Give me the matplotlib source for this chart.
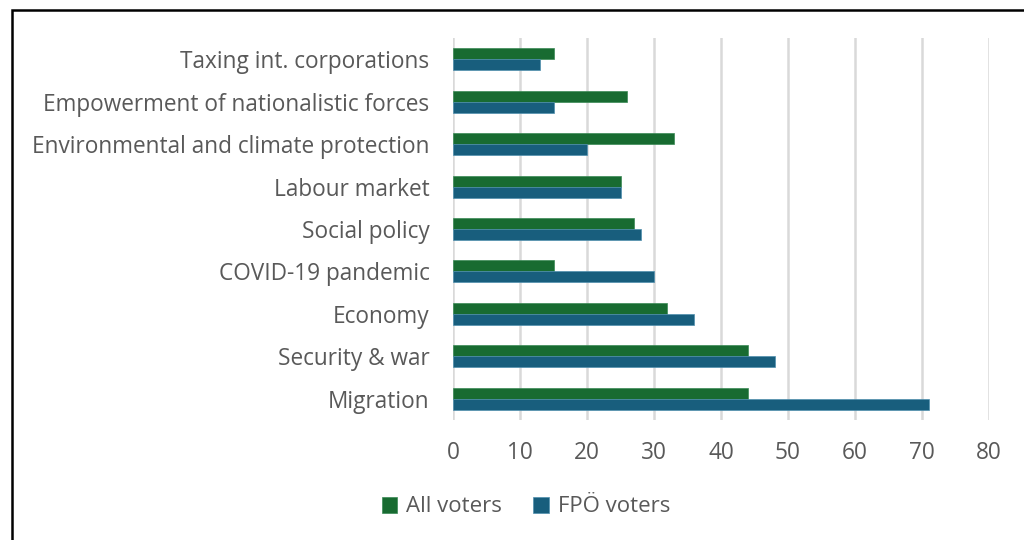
import matplotlib.pyplot as plt
import numpy as np
from matplotlib.patches import Rectangle

categories = ['Migration', 'Security & war', 'Economy', 'COVID-19 pandemic', 'Social policy',
              'Labour market', 'Environmental and climate protection',
              'Empowerment of nationalistic forces', 'Taxing int. corporations']
all_voters = [44, 44, 32, 15, 27, 25, 33, 26, 15]
fpo_voters = [71, 48, 36, 30, 28, 25, 20, 15, 13]
x_ticks = [0, 10, 20, 30, 40, 50, 60, 70, 80]

green = '#186B31'
blue = '#185E7D'
text_color = '#595959'

plt.rcParams['font.family'] = ['Open Sans', 'DejaVu Sans']

W, H = 1024, 540
fig = plt.figure(figsize=(W / 100, H / 100), dpi=100)
ax = fig.add_axes([453 / W, 1 - 420 / H, (989 - 453) / W, (420 - 38) / H])

y = np.arange(len(categories))
h = 0.26
ax.barh(y + h / 2, all_voters, height=h, color=green, edgecolor='#3a8a55', linewidth=0.5,
        label='All voters', zorder=3)
ax.barh(y - h / 2, fpo_voters, height=h, color=blue, edgecolor='#4f8fae', linewidth=0.5,
        label='FPÖ voters', zorder=3)

ax.set_xlim(0, 80)
ax.set_ylim(-0.5, len(categories) - 0.5)
ax.set_xticks(x_ticks)
ax.set_yticks(y)
ax.set_yticklabels(categories)
ax.xaxis.grid(True, color='#d9d9d9', linewidth=1.8, zorder=0)
for s in ax.spines.values():
    s.set_visible(False)
ax.tick_params(axis='both', length=0, labelsize=16.3, labelcolor=text_color)
ax.tick_params(axis='y', pad=17)
ax.tick_params(axis='x', pad=15)

handles, labels = ax.get_legend_handles_labels()
fig.legend(handles, labels, loc='center', bbox_to_anchor=(526 / W, 1 - 507 / H), ncol=2,
           frameon=False, fontsize=16, labelcolor=text_color, handlelength=0.7,
           handleheight=0.7, handletextpad=0.4, columnspacing=1.4)

fig.add_artist(Rectangle((12 / W, -0.1), 1.2, 1.1 - 10 / H, transform=fig.transFigure,
                         fill=False, edgecolor='black', linewidth=1.8))

fig.savefig('out.png', dpi=100)
